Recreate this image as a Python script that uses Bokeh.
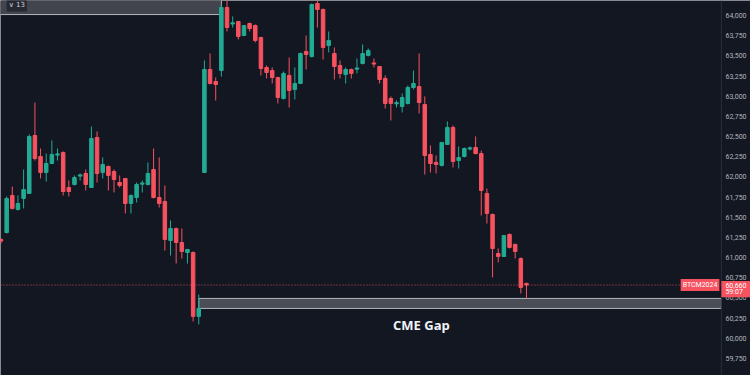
from bokeh.plotting import figure
from bokeh.models import (Range1d, NumeralTickFormatter, SingleIntervalTicker,
                          Span, Label, BoxAnnotation, ColumnDataSource)
from bokeh.core.properties import value
from bokeh.embed import file_html
from bokeh.resources import INLINE

# ---- data (BTC CME futures, 30-min candles) ----
opens = [61225, 61311, 61770, 61596, 61733, 61795, 62513, 62253, 62055, 62166,
         62270, 62303, 61869, 61906, 62010, 62042, 61869, 62489, 62055, 62129,
         62067, 61931, 61981, 61671, 61745, 61910, 61906, 62092, 61745, 61695,
         61212, 61361, 61187, 61063, 61063, 60271, 62055, 63331, 63182, 63319,
         64099, 63895, 63926, 63752, 63901, 63876, 63728, 63356, 63319, 63232,
         62972, 63257, 63083, 63158, 63554, 63492, 64149, 64074, 63628, 63529,
         63381, 63269, 63331, 63335, 63405, 63505, 63412, 63368, 63220, 62972,
         62905, 62872, 62910, 63108, 63120, 62897, 62278, 62179, 62142, 62402,
         62613, 62203, 62253, 62345, 62365, 62290, 61795, 61534, 61051, 61014,
         61287, 61163, 60989, 60680]
highs = [61240, 61758, 61881, 61770, 62092, 62526, 62922, 62352, 62290, 62451,
         62352, 62315, 61956, 62018, 62042, 62092, 62625, 62563, 62241, 62142,
         62092, 62018, 61985, 61782, 61931, 61956, 62179, 62352, 62241, 61894,
         61460, 61373, 61361, 61105, 61076, 60543, 63443, 63529, 63232, 64136,
         64220, 63988, 63930, 63880, 63913, 63889, 63735, 63381, 63356, 63240,
         63306, 63480, 63356, 63540, 63752, 64149, 64200, 64087, 63802, 63604,
         63443, 63356, 63343, 63467, 63641, 63591, 63467, 63375, 63257, 62997,
         62947, 63034, 63133, 63319, 63529, 62997, 62389, 62265, 62430, 62687,
         62637, 62377, 62365, 62377, 62501, 62327, 61856, 61547, 61113, 61280,
         61299, 61175, 61002, 60690]
lows = [61175, 61299, 61596, 61584, 61609, 61790, 62203, 61981, 61943, 62160,
        62203, 61770, 61758, 61894, 61956, 61832, 61865, 61931, 61981, 61832,
        61807, 61869, 61547, 61547, 61683, 61807, 61894, 61733, 61621, 61088,
        61026, 60927, 60989, 60927, 60209, 60172, 62050, 63145, 62947, 63244,
        63802, 63851, 63703, 63745, 63802, 63666, 63257, 63220, 63158, 62910,
        62959, 62860, 62959, 63150, 63331, 63480, 63851, 63455, 63542, 63207,
        63220, 63158, 63220, 63282, 63393, 63492, 63356, 63158, 62848, 62699,
        62860, 62798, 62897, 63083, 62786, 62030, 62055, 62042, 62129, 62395,
        62117, 62104, 62241, 62327, 62278, 61522, 61423, 60754, 60940, 61010,
        61113, 60989, 60556, 60494]
closes = [61205, 61733, 61609, 61671, 61844, 62501, 62228, 62055, 62166, 62278,
          62285, 61819, 61819, 61993, 62025, 61906, 62476, 62042, 62154, 62018,
          61968, 61894, 61671, 61770, 61906, 61925, 62042, 61745, 61671, 61225,
          61361, 61187, 61076, 61101, 60271, 60370, 63331, 63158, 63145, 64099,
          63851, 63910, 63740, 63876, 63839, 63690, 63343, 63294, 63232, 62984,
          63282, 63071, 63158, 63529, 63517, 64136, 64074, 63604, 63690, 63368,
          63282, 63331, 63282, 63350, 63529, 63566, 63398, 63207, 62910, 62910,
          62920, 62984, 63108, 63158, 62922, 62265, 62166, 62154, 62427, 62613,
          62191, 62241, 62352, 62360, 62290, 61832, 61547, 61113, 61014, 61274,
          61126, 61076, 60630, 60660]

symbol = "BTCM2024"
last_price = 60660
countdown = "59:07"
gap_low, gap_high = 60370, 60494          # CME gap zone
gap_start = 35                            # candle index where the gap box starts
old_zone_low, old_zone_end = 64012, 39    # older zone at the top left
y_ticks_interval = 250

# ---- styling / layout ----
BG = "#131722"
UP = "#22ab94"
DOWN = "#f7525f"
AXIS_TXT = "#b2b5be"
W, H = 750, 375
X0, X_SCALE_END, X_END = -0.09, 127.5, 132.65   # price-scale strip starts at X_SCALE_END
Y0, Y1 = 59539, 64186

n = len(opens)
idx = list(range(n))
colors = [UP if c >= o else DOWN for o, c in zip(opens, closes)]
src = ColumnDataSource(dict(
    x=idx, high=highs, low=lows,
    top=[max(o, c) for o, c in zip(opens, closes)],
    bottom=[min(o, c) for o, c in zip(opens, closes)],
    color=colors))

p = figure(width=W, height=H, output_backend="svg", toolbar_location=None,
           x_range=Range1d(X0, X_END), y_range=Range1d(Y0, Y1),
           x_axis_location=None, y_axis_location="right",
           min_border_left=0, min_border_top=0, min_border_bottom=0,
           min_border_right=0,
           background_fill_color=BG, border_fill_color=BG,
           outline_line_color=None)
p.grid.visible = False

# price scale: real axis, labels pulled back over the price-scale strip
ax = p.yaxis[0]
ax.ticker = SingleIntervalTicker(interval=y_ticks_interval)
ax.formatter = NumeralTickFormatter(format="0,0")
ax.major_label_text_font = "Roboto"
ax.major_label_text_font_size = "7px"
ax.major_label_text_color = AXIS_TXT
ax.major_tick_line_color = None
ax.minor_tick_line_color = None
ax.major_tick_out = 0
ax.major_tick_in = 0
ax.minor_tick_out = 0
ax.minor_tick_in = 0
ax.axis_label_standoff = 0
ax.axis_line_color = None
ax.major_label_standoff = -25

# separator between chart and price scale
p.add_layout(Span(location=X_SCALE_END, dimension="height",
                  line_color="#2a2e39", line_width=1))

# zones
p.quad(left=[-1], right=[old_zone_end], bottom=[old_zone_low], top=[64600],
       fill_color="#42454e", line_color="#b2b5be", line_width=1)
p.quad(left=[gap_start], right=[X_SCALE_END], bottom=[gap_low], top=[gap_high],
       fill_color="#4a4d56", line_color="#b2b5be", line_width=1)

# last price line (dotted)
p.segment(x0=[X0], x1=[X_SCALE_END], y0=[last_price], y1=[last_price],
          line_color=DOWN, line_dash="1 2", line_width=1, line_alpha=0.85)

# candles
p.segment(x0="x", y0="low", x1="x", y1="high", color="color", line_width=1,
          source=src)
p.vbar(x="x", top="top", bottom="bottom", width=0.62, fill_color="color",
       line_color="color", line_width=1, source=src)

# CME Gap text
p.text(x=[74.4], y=[60159], text=["CME Gap"], text_align="center",
       text_baseline="middle", text_color="#f0f3fa",
       text_font=value("Open Sans"), text_font_style="bold",
       text_font_size="13px")

# symbol tag on the price line
p.add_layout(Label(x=X_SCALE_END, y=last_price, x_offset=-2, text=symbol,
                   text_align="right", text_baseline="middle",
                   text_font="Roboto", text_font_size="7px", text_color="white",
                   background_fill_color=DOWN, padding=2))

# price + countdown tag on the price scale (drawn above the scale labels)
p.add_layout(BoxAnnotation(left=X_SCALE_END, right=X_END + 1,
                           top=last_price + 50, bottom=last_price - 150,
                           fill_color=DOWN, fill_alpha=1.0, line_color=None))
p.add_layout(Label(x=X_SCALE_END, x_offset=4, y=last_price,
                   text=f"{last_price:,}", text_align="left",
                   text_baseline="middle", text_font="Roboto",
                   text_font_size="7px", text_color="white"))
p.add_layout(Label(x=X_SCALE_END, x_offset=4, y=last_price - 92,
                   text=countdown, text_align="left",
                   text_baseline="middle", text_font="Roboto",
                   text_font_size="7px", text_color="white"))

# collapsed indicator legend
p.add_layout(Label(x=1.0, y=64125, text="∨ 13", text_align="left",
                   text_baseline="middle", text_font="DejaVu Sans",
                   text_font_size="7px", text_color="#d1d4dc",
                   background_fill_color="#262932", padding=2))

open("out.html", "w").write(file_html(p, INLINE))
